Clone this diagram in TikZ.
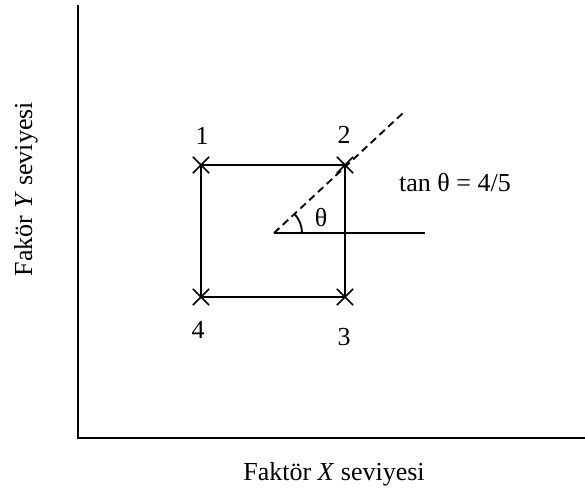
\documentclass[tikz,border=0pt]{standalone}
\usepackage{fontspec}
\setmainfont{Liberation Serif}
\usetikzlibrary{shapes.misc}
\newcommand{\lblfont}{\fontsize{19.5}{23}\selectfont}

\begin{document}
\begin{tikzpicture}[x=0.75pt, y=-0.75pt, line width=1.4pt,
  crs/.style={cross out, draw, line width=1.2pt, minimum size=11pt, inner sep=0pt},
  lbl/.style={font=\lblfont, inner sep=0pt, anchor=base}]
  \useasboundingbox (0,0) rectangle (585,500);
  % axes
  \coordinate (top) at (78,5);
  \coordinate (org) at (78,438);
  \coordinate (rgt) at (585,438);
  \draw (top) -- (org) -- (rgt);
  \node[lbl, rotate=90] (ylab) at (32,189) {Fakör \textit{Y} seviyesi};
  \node[lbl] (xlab) at (334,480) {Faktör \textit{X} seviyesi};
  % design points
  \coordinate (c1) at (201,165);
  \coordinate (c2) at (345,165);
  \coordinate (c3) at (345,297);
  \coordinate (c4) at (201,297);
  \coordinate (ctr) at (274,233);
  \draw (c1) -- (c2) -- (c3) -- (c4) -- cycle;
  \foreach \p in {1,...,4} \node[crs] at (c\p) {};
  \node[lbl] (l1) at (202,144) {1};
  \node[lbl] (l2) at (344,143) {2};
  \node[lbl] (l3) at (344,345) {3};
  \node[lbl] (l4) at (198,338) {4};
  % direction
  \coordinate (hend) at (425,233);
  \coordinate (dend) at (403,113);
  \draw (ctr) -- (hend);
  \draw[dash pattern=on 5.5pt off 3.5pt] (ctr) -- (dend);
  \draw (ctr) ++(28,0) arc[start angle=0, end angle=-43, radius=28];
  \node[lbl] (th) at (321,226) {θ};
  \node[lbl] (tn) at (455,191) {tan θ = 4/5};
\end{tikzpicture}
\end{document}
